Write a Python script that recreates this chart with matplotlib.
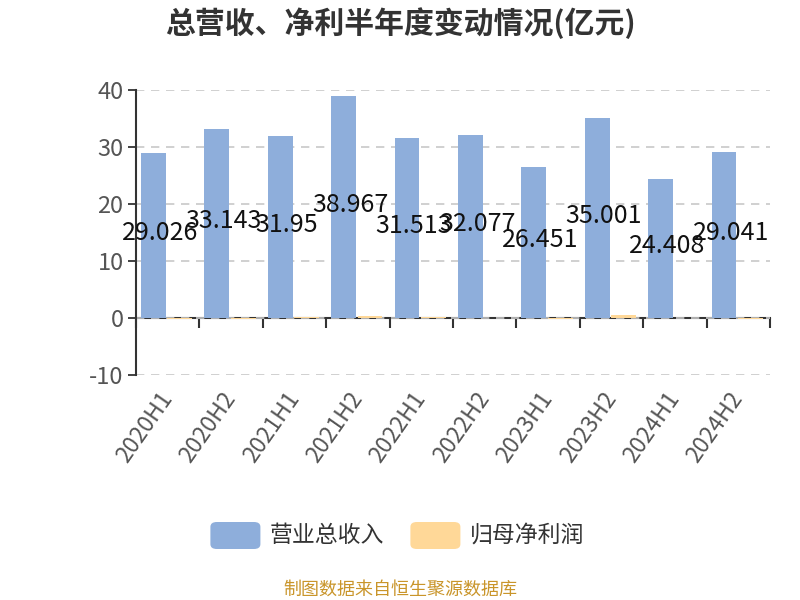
import matplotlib.pyplot as plt
from matplotlib.patches import FancyBboxPatch
import numpy as np

plt.rcParams['font.family'] = ['Noto Sans CJK SC', 'DejaVu Sans']
plt.rcParams['axes.unicode_minus'] = False

periods = ["2020H1", "2020H2", "2021H1", "2021H2", "2022H1",
           "2022H2", "2023H1", "2023H2", "2024H1", "2024H2"]
revenue = [29.026, 33.143, 31.95, 38.967, 31.513,
           32.077, 26.451, 35.001, 24.408, 29.041]
net_profit = [-0.2, -0.2, 0.1, 0.4, 0.15, 0.08, -0.15, 0.45, 0.05, -0.15]
revenue_labels = ["29.026", "33.143", "31.95", "38.967", "31.513",
                  "32.077", "26.451", "35.001", "24.408", "29.041"]

blue = "#8eaedb"
orange = "#ffd898"
axis_color = "#333333"
text_gray = "#555555"

fig = plt.figure(figsize=(8, 6), dpi=100)
ax = fig.add_axes([0.17, 0.375, 0.7925, 0.475])

x = np.arange(len(periods))
width = 0.39
ax.bar(x - 0.225, revenue, width, color=blue, zorder=2)
ax.bar(x + 0.19, net_profit, width, color=orange, zorder=2)

# value labels sit at half bar height
for i, v in enumerate(revenue):
    ax.text(i - 0.12, v / 2 + 0.4, revenue_labels[i], ha="center", va="center",
            fontsize=18, color="#111111", zorder=3)

ax.set_xlim(-0.5, len(periods) - 0.5)
ax.set_ylim(-10, 40)
ax.set_yticks([-10, 0, 10, 20, 30, 40])
ax.tick_params(axis="y", labelsize=17, colors=text_gray, length=6, width=1.3,
               color=axis_color, pad=3)
ax.yaxis.grid(True, linestyle=(0, (5, 4)), color="#c8c8c8", linewidth=1.2, zorder=0)

ax.set_xticks(x)
ax.set_xticklabels(periods, rotation=55, ha="right", va="center",
                   rotation_mode="anchor", fontsize=16.5, color=text_gray)
ax.tick_params(axis="x", length=0, pad=14)

for side in ["top", "right", "bottom"]:
    ax.spines[side].set_visible(False)
ax.spines["left"].set_color(axis_color)
ax.spines["left"].set_linewidth(1.5)

# zero axis line with boundary ticks
zero_ax = ax.secondary_xaxis(0.2)
zero_ax.set_xticks(np.arange(-0.5, len(periods), 1.0))
zero_ax.set_xticklabels([])
zero_ax.tick_params(axis="x", direction="out", length=7, width=1.5, color=axis_color)
zero_ax.spines["bottom"].set_color(axis_color)
zero_ax.spines["bottom"].set_linewidth(1.5)

fig.text(0.5, 0.962, "总营收、净利半年度变动情况(亿元)", ha="center", va="center",
         fontsize=21.5, fontweight="bold", color="#333333")

# legend
for x0, color, label in [(0.263, blue, "营业总收入"), (0.513, orange, "归母净利润")]:
    fig.patches.append(FancyBboxPatch((x0, 0.085), 0.0625, 0.045,
                                      boxstyle="round,pad=0,rounding_size=0.008",
                                      transform=fig.transFigure, facecolor=color,
                                      edgecolor="none"))
    fig.text(x0 + 0.074, 0.108, label, ha="left", va="center", fontsize=16.5,
             color="#333333")

fig.text(0.5, 0.018, "制图数据来自恒生聚源数据库", ha="center", va="center",
         fontsize=13, color="#c9952a")

fig.savefig("out.png", dpi=100)
